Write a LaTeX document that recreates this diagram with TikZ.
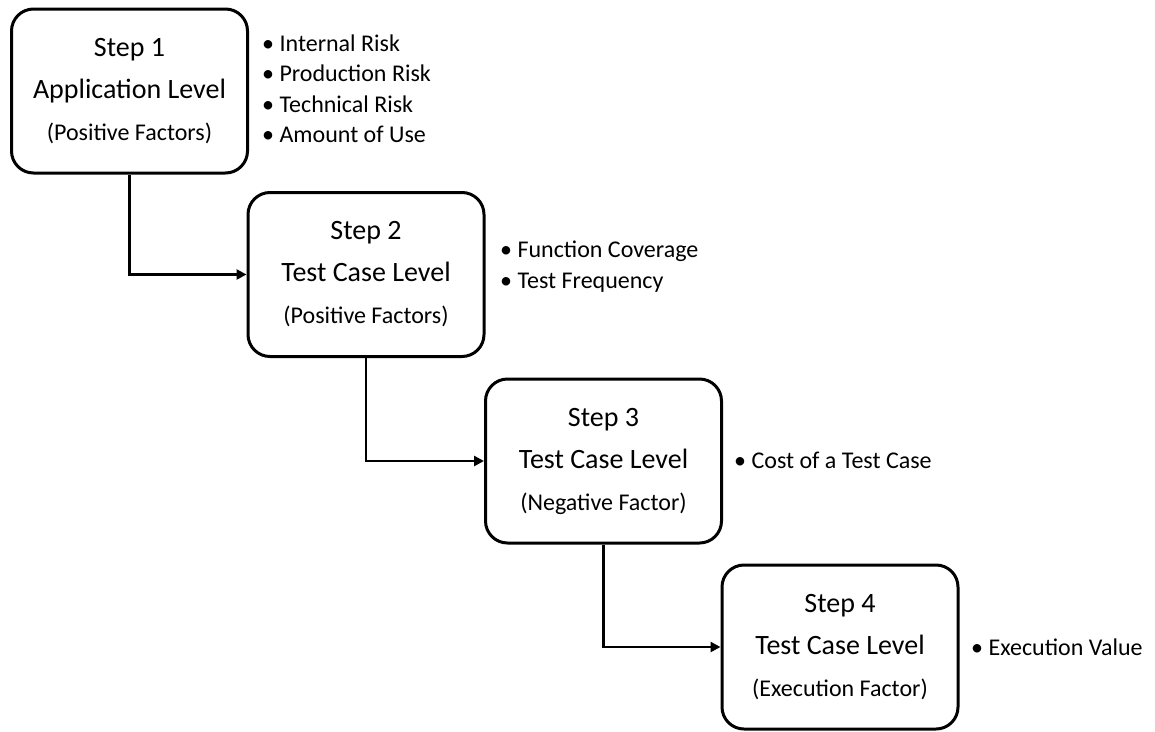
\documentclass[tikz,border=0pt]{standalone}
\usepackage{fontspec}
\setmainfont{Carlito}
\usetikzlibrary{arrows.meta}
\begin{document}
\begin{tikzpicture}[x=1pt,y=-1pt,
  stepbox/.style={draw, line width=3pt, rounded corners=22pt,
    minimum width=236pt, minimum height=164pt, inner sep=0pt,
    align=center, font=\fontsize{28}{42}\selectfont},
  flow/.style={line width=2.8pt, -{Triangle[length=10pt,width=10pt]}},
  item/.style={anchor=base west, inner sep=0pt, font=\fontsize{24}{30}\selectfont}]
\useasboundingbox (0,0) rectangle (1155,731);

% the four steps
\node[stepbox] (s1) at (129.5,91)  {Step 1\\Application Level\\{\fontsize{24}{42}\selectfont (Positive Factors)}};
\node[stepbox] (s2) at (366,274.5) {Step 2\\Test Case Level\\{\fontsize{24}{42}\selectfont (Positive Factors)}};
\node[stepbox] (s3) at (603.5,461) {Step 3\\Test Case Level\\{\fontsize{24}{42}\selectfont (Negative Factor)}};
\node[stepbox] (s4) at (840,647)   {Step 4\\Test Case Level\\{\fontsize{24}{42}\selectfont (Execution Factor)}};

% elbow connectors
\draw[flow] (s1.south) |- (s2.west);
\draw[flow] (s2.south) |- (s3.west);
\draw[flow] (s3.south) |- (s4.west);

% factor lists
\node[item] (f1a) at (262,51)    {• Internal Risk};
\node[item] (f1b) at (262,81.5)  {• Production Risk};
\node[item] (f1c) at (262,112)   {• Technical Risk};
\node[item] (f1d) at (262,142.5) {• Amount of Use};

\node[item] (f2a) at (500,257) {• Function Coverage};
\node[item] (f2b) at (500,288) {• Test Frequency};

\node[item] (f3a) at (734,468) {• Cost of a Test Case};

\node[item] (f4a) at (971,655) {• Execution Value};
\end{tikzpicture}
\end{document}
